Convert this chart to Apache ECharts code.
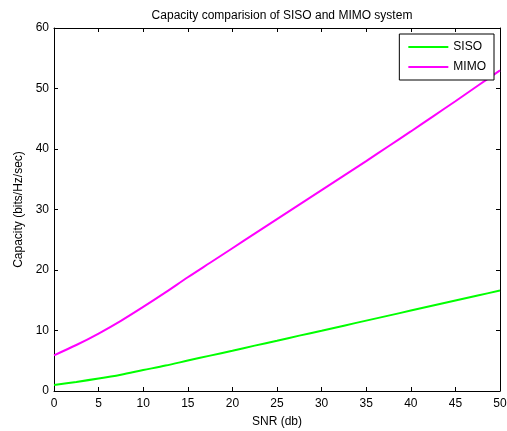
<!DOCTYPE html>
<html><head><meta charset="utf-8">
<script src="https://cdn.jsdelivr.net/npm/echarts@6/dist/echarts.min.js"></script>
<style>html,body{margin:0;padding:0;background:#fff}#c{width:507px;height:431px}</style>
</head><body><div id="c"></div>
<script>
const snr = [0, 2.5, 5, 7.5, 10, 12.5, 15, 17.5, 20, 22.5, 25, 27.5, 30, 32.5, 35, 37.5, 40, 42.5, 45, 47.5, 50];
const siso = [1.0, 1.5, 2.06, 2.7, 3.46, 4.2, 5.03, 5.85, 6.66, 7.5, 8.31, 9.15, 9.97, 10.8, 11.63, 12.46, 13.29, 14.12, 14.95, 15.78, 16.61];
const mimo = [5.9, 7.6, 9.5, 11.6, 13.9, 16.3, 18.8, 21.2, 23.6, 26.0, 28.4, 30.8, 33.2, 35.6, 38.0, 40.45, 42.9, 45.4, 47.9, 50.45, 53.0];
const xTicks = [0,5,10,15,20,25,30,35,40,45,50];
const yTicks = [0,10,20,30,40,50,60];

const F = 'Liberation Sans, Arial, sans-serif';
const chart = echarts.init(document.getElementById('c'));
const axCommon = {
  axisLine: {show: true, onZero: false, lineStyle: {color: '#000', width: 1}},
  axisTick: {show: true, inside: true, length: 4, lineStyle: {color: '#000'}},
  splitLine: {show: false}
};
chart.setOption({
  animation: false,
  title: {text: 'Capacity comparision of SISO and MIMO system', left: 277, top: 5, textAlign: 'center',
    textStyle: {fontFamily: F, fontSize: 12, fontWeight: 'normal', color: '#000'}},
  legend: {
    data: ['SISO', 'MIMO'], orient: 'vertical', right: 13, top: 34,
    backgroundColor: '#fff', borderColor: '#000', borderWidth: 1, padding: [7, 8, 7, 9],
    itemWidth: 40, itemHeight: 2, itemGap: 8,
    icon: 'rect',
    textStyle: {fontFamily: F, fontSize: 12, color: '#000', lineHeight: 12}
  },
  grid: {left: 54, right: 7, top: 28, bottom: 40, containLabel: false, outerBoundsMode: 'none'},
  xAxis: [
    Object.assign({type: 'value', min: 0, max: 50, interval: 5, position: 'bottom',
      name: 'SNR (db)', nameLocation: 'middle', nameGap: 25,
      nameTextStyle: {fontFamily: F, fontSize: 12, color: '#000'},
      axisLabel: {fontFamily: F, fontSize: 12, color: '#000', margin: 7}}, axCommon),
    Object.assign({type: 'value', min: 0, max: 50, interval: 5, position: 'top',
      axisLabel: {show: false}}, axCommon)
  ],
  yAxis: [
    Object.assign({type: 'value', min: 0, max: 60, interval: 10, position: 'left',
      name: 'Capacity (bits/Hz/sec)', nameLocation: 'middle', nameGap: 28,
      nameTextStyle: {fontFamily: F, fontSize: 12, color: '#000'},
      axisLabel: {fontFamily: F, fontSize: 12, color: '#000', margin: 5}}, axCommon),
    Object.assign({type: 'value', min: 0, max: 60, interval: 10, position: 'right',
      axisLabel: {show: false}}, axCommon)
  ],
  series: [
    {name: 'SISO', type: 'line', data: snr.map((s, i) => [s, siso[i]]), smooth: 0.3, showSymbol: false,
      lineStyle: {color: '#00ff00', width: 2}, itemStyle: {color: '#00ff00'}, z: 3},
    {name: 'MIMO', type: 'line', data: snr.map((s, i) => [s, mimo[i]]), smooth: 0.3, showSymbol: false,
      lineStyle: {color: '#ff00ff', width: 2}, itemStyle: {color: '#ff00ff'}, z: 2}
  ]
});
</script></body></html>
